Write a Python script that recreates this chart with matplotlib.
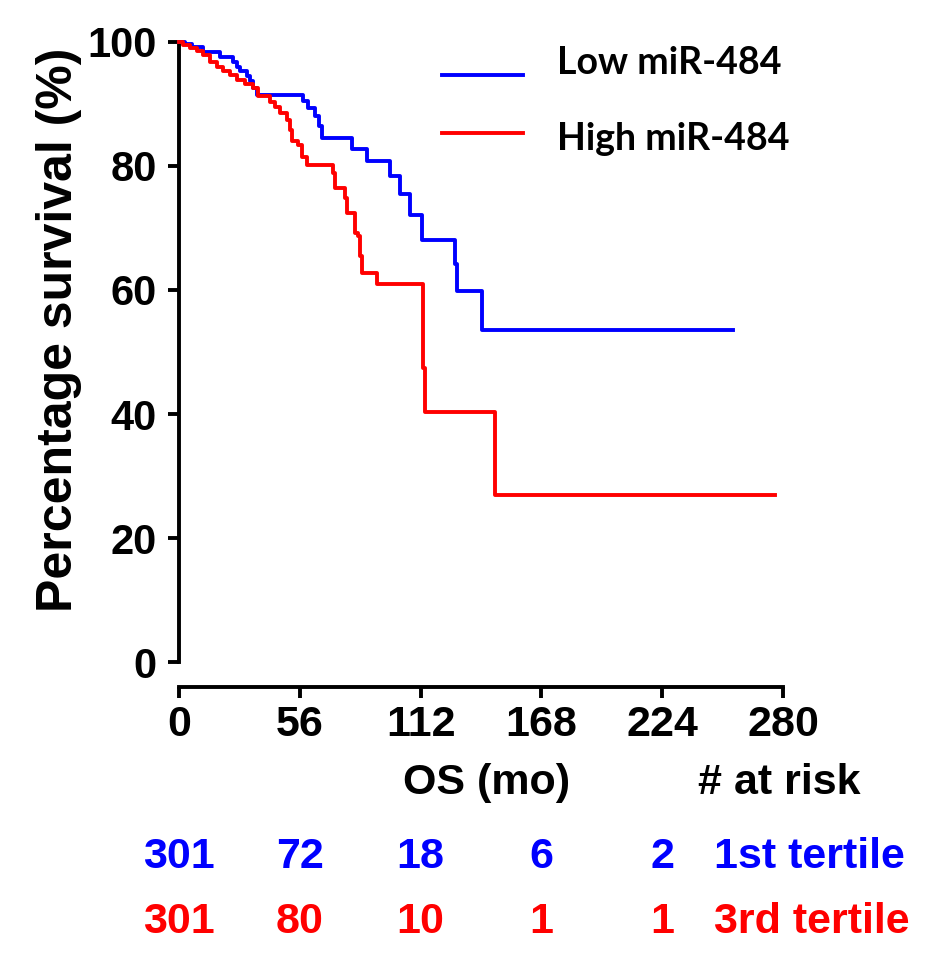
import matplotlib
matplotlib.use("Agg")
import matplotlib.pyplot as plt
import matplotlib.transforms as mtransforms
from matplotlib.lines import Line2D

# ---- Kaplan-Meier step data (months, % surviving) ----
low_t = [0, 3, 6, 11.3, 19, 25.2, 26.7, 28.3, 31.4, 32.9, 34.5, 36, 57.6, 60, 63, 65, 66.5,
         80, 87, 98, 102.5, 107, 112.5, 128, 128.8, 140.3, 256.6]
low_s = [100, 99.6, 99.2, 98.4, 97.6, 96.8, 96.0, 95.2, 94.4, 93.6, 92.5, 91.4, 90.4, 89.3, 88.0, 86.4, 84.5,
         82.7, 80.7, 78.3, 75.4, 72.1, 68.1, 64.1, 59.8, 53.6, 53.6]

high_t = [0, 2, 5, 8.2, 11, 14.4, 17.5, 20.5, 23.5, 26.7, 30.5, 34.5, 36.8, 42.2, 44.5, 46.8,
          49.9, 51.5, 52.2, 55.3, 56.9, 59.2, 71.5, 72.3, 77.0, 77.7, 81.6, 83.1, 84.0, 84.7,
          91.7, 113.3, 114.0, 146.5, 276.3]
high_s = [100, 99.4, 99.0, 98.5, 97.8, 96.8, 96.0, 95.2, 94.6, 93.9, 93.2, 92.5, 91.3, 90.3, 89.4, 88.5,
          87.4, 85.8, 84.0, 83.4, 81.5, 80.2, 78.9, 76.4, 74.8, 72.4, 69.2, 68.7, 65.5, 62.7,
          60.9, 47.4, 40.4, 27.0, 27.0]

xticks = [0, 56, 112, 168, 224, 280]
yticks = [0, 20, 40, 60, 80, 100]

# numbers at risk under each tick
risk_x = [0, 56, 112, 168, 224]
risk_low = ["301", "72", "18", "6", "2"]
risk_high = ["301", "80", "10", "1", "1"]

BLUE = "#0000ff"
RED = "#ff0000"
FONT = ["Liberation Sans", "DejaVu Sans"]

fig = plt.figure(figsize=(9.37, 9.64), dpi=100)
W, H = 937, 964
ax = fig.add_axes([179 / W, 1 - 662.3 / H, (783 - 179) / W, (662.3 - 41.7) / H])

# Prism-style axes: x axis pushed down, no box
for s in ["top", "right"]:
    ax.spines[s].set_visible(False)
ax.spines["bottom"].set_position(("outward", 18))
for s in ["left", "bottom"]:
    ax.spines[s].set_linewidth(2.8)

ax.plot(low_t, low_s, drawstyle="steps-post", color=BLUE, lw=2.8, clip_on=False, zorder=3)
ax.plot(high_t, high_s, drawstyle="steps-post", color=RED, lw=2.8, clip_on=False, zorder=3)

ax.set_xlim(0, 280)
ax.set_ylim(0, 100)
ax.set_xticks(xticks)
ax.set_yticks(yticks)
ax.set_xticklabels([str(v) for v in xticks], fontsize=31, fontweight="bold", family=FONT)
ax.set_yticklabels([str(v) for v in yticks], fontsize=30, fontweight="bold", family=FONT)
ax.tick_params(axis="both", width=2.8, length=8, color="black")
ax.tick_params(axis="y", pad=8)
ax.tick_params(axis="x", pad=5)

ax.set_ylabel("Percentage survival (%)", fontsize=36, fontweight="bold", family=FONT)
ax.yaxis.set_label_coords(-0.16, 0.535)

# legend drawn by hand at the top right
for y_px, col in [(75, BLUE), (133, RED)]:
    fig.add_artist(Line2D([442 / W, 523 / W], [1 - y_px / H, 1 - y_px / H],
                          color=col, lw=2.8, transform=fig.transFigure))
fig.text(557 / W, 1 - 74 / H, "Low miR-484", fontsize=27, fontweight="bold",
         family=["Lato", "DejaVu Sans"], va="baseline", ha="left")
fig.text(557 / W, 1 - 150 / H, "High miR-484", fontsize=27, fontweight="bold",
         family=["Lato", "DejaVu Sans"], va="baseline", ha="left")

# axis title and risk table below the x axis
tr = mtransforms.blended_transform_factory(ax.transData, fig.transFigure)
ax.text(142.8, 1 - 783 / H, "OS (mo)", transform=tr, ha="center", va="center",
        fontsize=31, fontweight="bold", family=FONT)
ax.text(240.6, 1 - 783 / H, "# at risk", transform=tr, ha="left", va="center",
        fontsize=31, fontweight="bold", family=FONT)

for row_y, vals, col, name in [(857, risk_low, BLUE, "1st tertile"),
                               (922, risk_high, RED, "3rd tertile")]:
    for x, v in zip(risk_x, vals):
        ax.text(x, 1 - row_y / H, v, transform=tr, ha="center", va="center",
                fontsize=31, fontweight="bold", color=col, family=FONT)
    ax.text(248, 1 - row_y / H, name, transform=tr, ha="left", va="center",
            fontsize=31, fontweight="bold", color=col, family=FONT)

fig.savefig("out.png", dpi=100, facecolor="white")
